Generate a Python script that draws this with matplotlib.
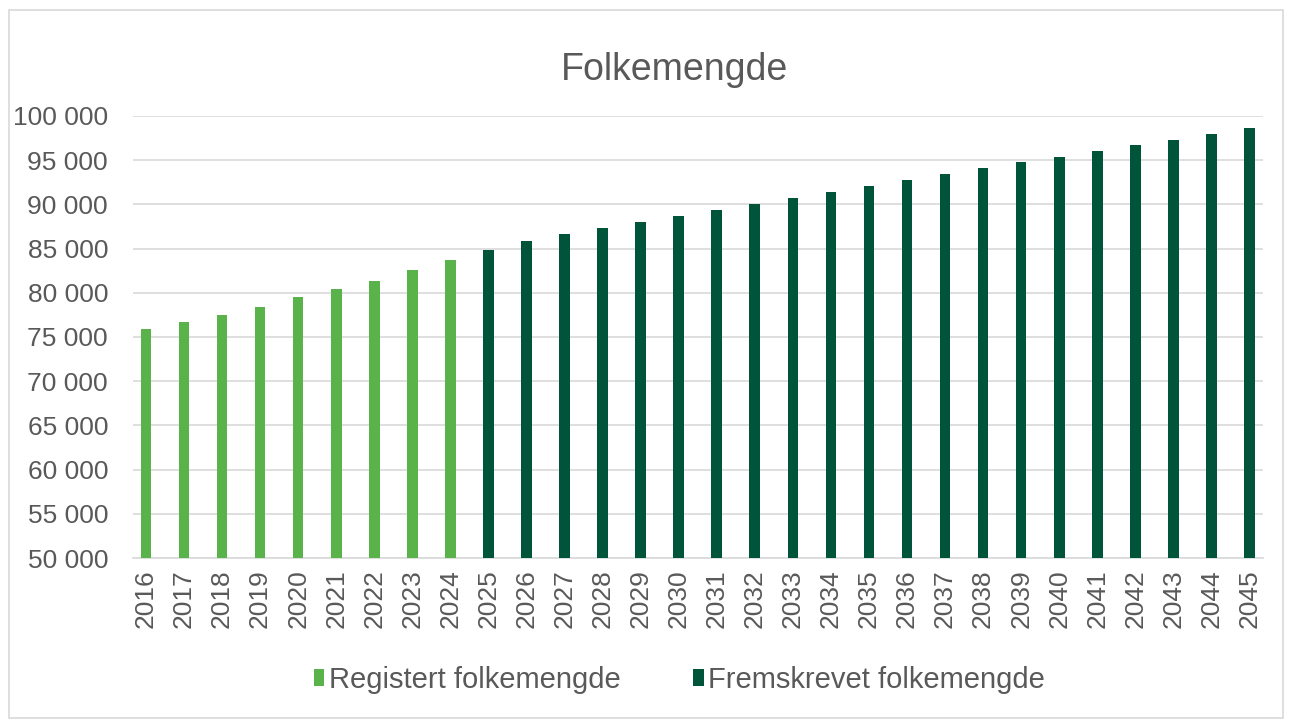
import matplotlib.pyplot as plt
from matplotlib.patches import Rectangle
from matplotlib.ticker import FuncFormatter

plt.rcParams['font.family'] = ['Liberation Sans', 'DejaVu Sans']

years_reg = list(range(2016, 2025))
reg = [75870, 76660, 77450, 78360, 79560, 80470, 81330, 82580, 83710]
years_proj = list(range(2025, 2046))
proj = [84810, 85820, 86650, 87290, 87970, 88690, 89370, 90050, 90760, 91440,
        92080, 92760, 93440, 94120, 94760, 95400, 96040, 96690, 97320, 97960, 98610]

light = '#5ab24b'
dark = '#00543a'
grey = '#595959'

W, H = 1292, 727
fig = plt.figure(figsize=(W / 100, H / 100), dpi=100)
fig.patches.append(Rectangle((9 / W, 1 - 718 / H), 1274 / W, 708 / H, transform=fig.transFigure,
                             fill=False, edgecolor='#d9d9d9', linewidth=1.2))

ax = fig.add_axes([133 / W, 1 - 558 / H, 1130 / W, 442 / H])
years = years_reg + years_proj
xr = [years.index(y) for y in years_reg]
xp = [years.index(y) for y in years_proj]
ax.bar(xr, reg, width=0.28, color=light, label='Registert folkemengde', zorder=3)
ax.bar(xp, proj, width=0.28, color=dark, label='Fremskrevet folkemengde', zorder=3)

ax.set_ylim(50000, 100000)
ax.set_yticks(range(50000, 100001, 5000))
ax.yaxis.set_major_formatter(FuncFormatter(lambda v, p: f'{int(v):,}'.replace(',', ' ')))
ax.set_xlim(-0.34, len(years) - 1 + 0.355)
ax.set_xticks(range(len(years)))
ax.set_xticklabels([str(y) for y in years], rotation=90)
ax.tick_params(axis='both', length=0, labelsize=19, colors=grey)
ax.tick_params(axis='x', pad=8)
ax.tick_params(axis='y', pad=18)
ax.grid(axis='y', color='#d9d9d9', linewidth=1.2, zorder=0)
for s in ['top', 'right', 'left']:
    ax.spines[s].set_visible(False)
ax.spines['bottom'].set_color('#d9d9d9')
ax.spines['bottom'].set_linewidth(1.2)

fig.text(0.522, 1 - 70 / H, 'Folkemengde', ha='center', va='center', fontsize=27, color=grey)

fig.legend(loc='center', bbox_to_anchor=(0.526, 1 - 680 / H), ncol=2, frameon=False,
           fontsize=21, labelcolor=grey, handlelength=0.35, handleheight=0.5,
           handletextpad=0.15, columnspacing=2.5)

fig.savefig('out.png', dpi=100)
